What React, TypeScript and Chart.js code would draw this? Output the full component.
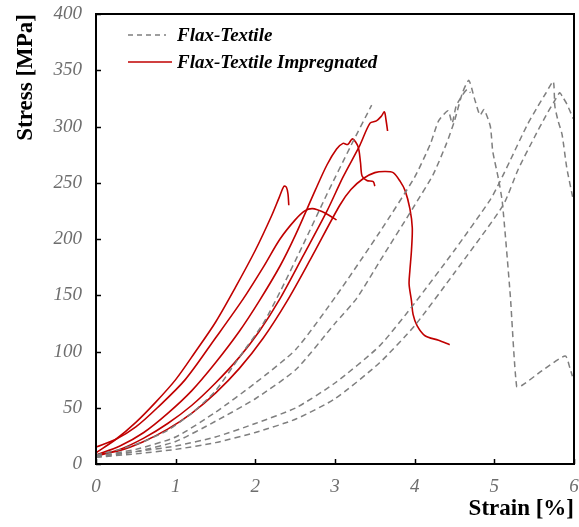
import React, { useEffect, useRef } from "react";
import { Chart, registerables } from "chart.js";

Chart.register(...registerables);

type P = [number, number];

// Flax-Textile (dashed grey) specimens: [strain %, stress MPa]
const flaxTextile1: P[] = [
  [0, 8], [0.3, 13], [0.6, 20], [0.9, 30], [1.2, 45], [1.5, 65], [1.8, 95], [2.1, 125],
  [2.31, 153], [2.6, 195], [2.9, 240], [3.2, 283], [3.46, 319],
];
const flaxTextile2: P[] = [
  [0, 7], [0.5, 13], [1.0, 24], [1.5, 46], [2.0, 72], [2.51, 102], [3.02, 150], [3.56, 206],
  [4.0, 255], [4.2, 285], [4.3, 305], [4.42, 314], [4.47, 303], [4.52, 318], [4.6, 328],
  [4.66, 333], [4.7, 330],
];
const flaxTextile3: P[] = [
  [0, 6], [0.5, 11], [1.0, 20], [1.5, 38], [2.0, 58], [2.51, 84], [3.0, 125], [3.27, 147],
  [3.56, 180], [4.0, 230], [4.23, 257], [4.4, 285], [4.5, 305], [4.6, 330], [4.68, 341],
  [4.75, 325], [4.82, 310], [4.87, 315], [4.95, 300], [4.98, 278], [5.05, 254], [5.1, 233],
  [5.2, 150], [5.28, 69], [5.35, 70], [5.6, 83], [5.89, 96], [5.95, 85], [5.98, 78],
];
const flaxTextile4: P[] = [
  [0, 7], [0.5, 11], [1.0, 16], [1.5, 24], [2.0, 36], [2.51, 50], [3.0, 72], [3.56, 105],
  [4.0, 143], [4.5, 190], [4.95, 235], [5.07, 251], [5.2, 270], [5.41, 301], [5.53, 316],
  [5.65, 330], [5.74, 340], [5.76, 318], [5.8, 305], [5.85, 293], [5.91, 263], [5.99, 235],
];
const flaxTextile5: P[] = [
  [0, 6], [0.5, 9], [1.0, 13], [1.5, 19], [2.0, 28], [2.51, 40], [3.0, 58], [3.56, 90],
  [4.0, 123], [4.5, 170], [5.11, 230], [5.3, 262], [5.5, 290], [5.65, 310], [5.75, 322],
  [5.82, 330], [5.86, 326], [5.91, 320], [5.99, 307],
];

// Flax-Textile Impregnated (solid red) specimens
const impregnated1: P[] = [
  [0, 10], [0.25, 22], [0.5, 37], [0.75, 55], [1.0, 75], [1.25, 100], [1.5, 126],
  [1.75, 157], [2.0, 190], [2.2, 220], [2.3, 237], [2.36, 247], [2.39, 246], [2.41, 240],
  [2.42, 230],
];
const impregnated2: P[] = [
  [0, 15], [0.25, 22], [0.5, 33], [0.77, 50], [1.12, 75], [1.5, 112], [1.85, 147],
  [2.1, 175], [2.31, 200], [2.5, 217], [2.62, 225], [2.72, 227], [2.85, 224], [2.95, 220],
  [3.02, 217],
];
const impregnated3: P[] = [
  [0, 8], [0.3, 16], [0.6, 28], [0.9, 45], [1.2, 65], [1.5, 90], [1.8, 118], [2.05, 145],
  [2.31, 176], [2.5, 203], [2.75, 243], [2.9, 266], [3.02, 280], [3.1, 285], [3.16, 284],
  [3.22, 289], [3.29, 282], [3.32, 268], [3.34, 256], [3.4, 252], [3.48, 251], [3.5, 247],
];
const impregnated4: P[] = [
  [0, 7], [0.3, 13], [0.6, 23], [0.9, 36], [1.2, 52], [1.5, 72], [1.8, 95], [2.05, 118],
  [2.31, 147], [2.6, 185], [2.9, 225], [3.1, 255], [3.31, 283], [3.44, 303], [3.52, 305],
  [3.58, 309], [3.62, 313], [3.64, 306], [3.66, 296],
];
const impregnated5: P[] = [
  [0, 8], [0.3, 12], [0.6, 20], [0.9, 31], [1.2, 45], [1.5, 63], [1.8, 85], [2.1, 112],
  [2.4, 145], [2.7, 183], [3.06, 230], [3.2, 244], [3.36, 254], [3.5, 259], [3.62, 260],
  [3.73, 259], [3.82, 251], [3.88, 243], [3.94, 227], [3.97, 210], [3.96, 190], [3.94, 172],
  [3.93, 160], [3.96, 145], [3.98, 133], [4.03, 123], [4.13, 114], [4.3, 110], [4.44, 106],
];

const textileSeries = [flaxTextile1, flaxTextile2, flaxTextile3, flaxTextile4, flaxTextile5];
const impregnatedSeries = [impregnated1, impregnated2, impregnated3, impregnated4, impregnated5];

const xTicks = [0, 1, 2, 3, 4, 5, 6];
const yTicks = [0, 50, 100, 150, 200, 250, 300, 350, 400];
const legendLabels = ["Flax-Textile", "Flax-Textile Impregnated"];
const xTitle = "Strain [%]";
const yTitle = "Stress [MPa]";

const GREY = "#7f7f7f";
const RED = "#C00000";
const SERIF = '"Liberation Serif", "Times New Roman", serif';

const framePlugin = {
  id: "frameAndLegend",
  afterDraw(chart: any) {
    const { ctx, chartArea, scales } = chart;
    const { left, right, top, bottom } = chartArea;
    ctx.save();
    ctx.strokeStyle = "#000";
    ctx.lineWidth = 2;
    ctx.setLineDash([]);
    ctx.strokeRect(left, top, right - left, bottom - top);
    ctx.lineWidth = 1.5;
    xTicks.forEach((v) => {
      const px = Math.round(scales.x.getPixelForValue(v)) + 0.5;
      ctx.beginPath();
      ctx.moveTo(px, bottom);
      ctx.lineTo(px, bottom - 5);
      ctx.stroke();
    });
    yTicks.forEach((v) => {
      const py = Math.round(scales.y.getPixelForValue(v)) + 0.5;
      ctx.beginPath();
      ctx.moveTo(left, py);
      ctx.lineTo(left + 5, py);
      ctx.stroke();
    });

    // legend
    const lx0 = left + 32;
    ctx.font = `italic bold 19px ${SERIF}`;
    ctx.textBaseline = "middle";
    ctx.fillStyle = "#000";
    ctx.strokeStyle = GREY;
    ctx.lineWidth = 1.3;
    ctx.setLineDash([5, 4]);
    ctx.beginPath();
    ctx.moveTo(lx0, top + 21);
    ctx.lineTo(lx0 + 38, top + 21);
    ctx.stroke();
    ctx.setLineDash([]);
    ctx.fillText(legendLabels[0], left + 81, top + 22);
    ctx.strokeStyle = RED;
    ctx.lineWidth = 1.6;
    ctx.beginPath();
    ctx.moveTo(lx0, top + 48);
    ctx.lineTo(lx0 + 44, top + 48);
    ctx.stroke();
    ctx.fillText(legendLabels[1], left + 81, top + 49);
    ctx.restore();
  },
};

export default function App() {
  const ref = useRef<HTMLCanvasElement | null>(null);
  useEffect(() => {
    document.body.style.margin = "0";
    if (!ref.current) return;
    const datasets: any[] = [];
    textileSeries.forEach((s, i) => {
      datasets.push({
        label: `${legendLabels[0]} ${i + 1}`,
        data: s.map(([x, y]) => ({ x, y })),
        showLine: true,
        borderColor: GREY,
        borderWidth: 1.5,
        borderDash: [6, 4],
        pointRadius: 0,
        tension: 0.2,
        fill: false,
      });
    });
    impregnatedSeries.forEach((s, i) => {
      datasets.push({
        label: `${legendLabels[1]} ${i + 1}`,
        data: s.map(([x, y]) => ({ x, y })),
        showLine: true,
        borderColor: RED,
        borderWidth: 1.6,
        pointRadius: 0,
        tension: 0.3,
        fill: false,
      });
    });
    const tickFont = { family: SERIF, size: 19, style: "italic" as const };
    const chart = new Chart(ref.current, {
      type: "scatter",
      data: { datasets },
      plugins: [framePlugin],
      options: {
        animation: false,
        responsive: false,
        devicePixelRatio: 1,
        layout: { padding: { top: 14, right: 5, left: 0, bottom: 0 } },
        plugins: { legend: { display: false }, tooltip: { enabled: false } },
        scales: {
          x: {
            type: "linear",
            min: 0,
            max: 6,
            afterBuildTicks: (s: any) => {
              s.ticks = xTicks.map((v) => ({ value: v }));
            },
            ticks: { font: tickFont, color: "#6e6e6e", padding: 12 },
            grid: { display: false, drawTicks: false },
            border: { display: false },
            title: {
              display: true,
              text: xTitle,
              align: "end",
              color: "#000",
              font: { family: SERIF, size: 23, weight: "bold" },
              padding: { top: 0, bottom: 4 },
            },
            afterFit: (s: any) => {
              s.height = 63;
              s.paddingLeft = 0;
              s.paddingRight = 0;
            },
          },
          y: {
            type: "linear",
            min: 0,
            max: 400,
            afterBuildTicks: (s: any) => {
              s.ticks = yTicks.map((v) => ({ value: v }));
            },
            ticks: { font: tickFont, color: "#6e6e6e", padding: 14 },
            grid: { display: false, drawTicks: false },
            border: { display: false },
            title: {
              display: true,
              text: yTitle,
              align: "end",
              color: "#000",
              font: { family: SERIF, size: 23, weight: "bold" },
              padding: { top: 12, bottom: 0 },
            },
            afterFit: (s: any) => {
              s.width = 96;
              s.paddingTop = 0;
              s.paddingBottom = 0;
            },
          },
        },
      } as any,
    });
    return () => chart.destroy();
  }, []);
  return (
    <div style={{ width: 579, height: 527 }}>
      <canvas ref={ref} width={579} height={527} style={{ display: "block" }} />
    </div>
  );
}
